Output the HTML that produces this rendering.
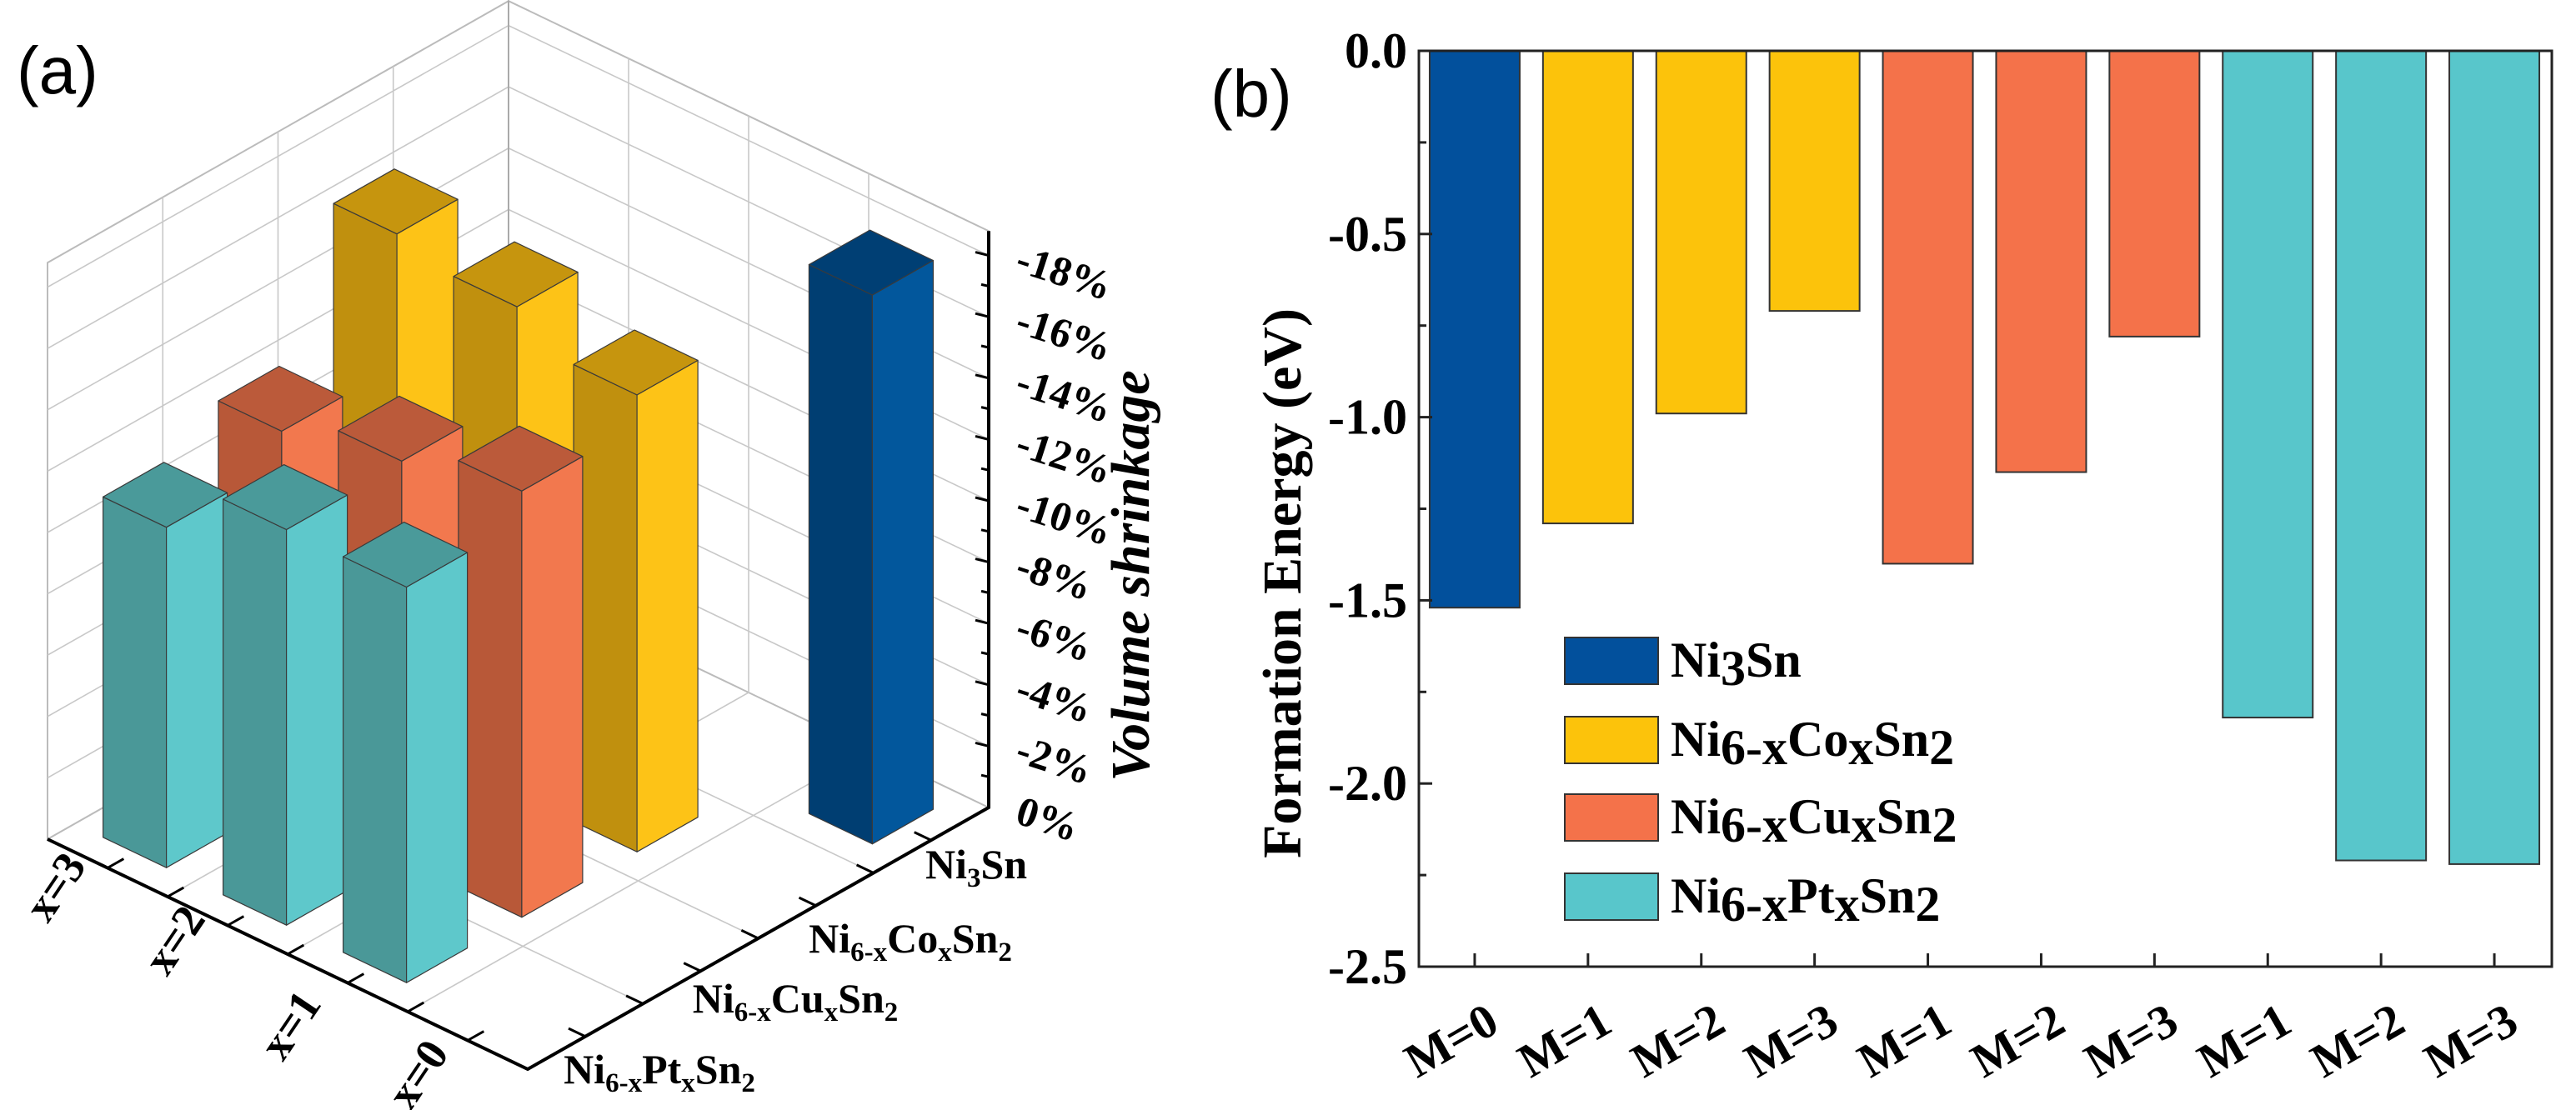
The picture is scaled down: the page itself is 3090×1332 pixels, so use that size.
<!DOCTYPE html>
<html><head><meta charset="utf-8"><style>
html,body{margin:0;padding:0;background:#fff;}
svg{display:block;}
text{font-family:"Liberation Serif",serif;}
</style></head><body>
<svg id="chart" width="3090" height="1332" viewBox="0 0 3090 1332" xmlns="http://www.w3.org/2000/svg">
<g id="pa"></g>
<g id="pb"></g>
</svg>
<script>
// ---------- Panel (a) data ----------
const rowLabels = ["x=3","x=2","x=1","x=0"];
const seriesNames = ["Ni6-xPtxSn2","Ni6-xCuxSn2","Ni6-xCoxSn2","Ni3Sn"];
const ptShrink = [11.1, 12.9, 12.9];
const cuShrink = [12.1, 13.0, 13.9];
const coShrink = [16.4, 15.9, 14.9];
const ni3snShrink = [17.9];
const zTicks = [0,2,4,6,8,10,12,14,16,18];

// ---------- Panel (b) data ----------
const bCats = ["M=0","M=1","M=2","M=3","M=1","M=2","M=3","M=1","M=2","M=3"];
const bValues = [-1.52,-1.29,-0.99,-0.71,-1.40,-1.15,-0.78,-1.82,-2.21,-2.22];
const bGroup = [0,1,1,1,2,2,2,3,3,3];
const bYTicks = [0,-0.5,-1.0,-1.5,-2.0,-2.5];

const NS="http://www.w3.org/2000/svg";
function mk(tag, attrs, parent){const e=document.createElementNS(NS,tag);for(const k in attrs)e.setAttribute(k,attrs[k]);parent.appendChild(e);return e;}

// ===== Panel A =====
const pa=document.getElementById('pa');
const L=[57,1007], FU=[576,276], RV=[553,-314], HS=36.8;
function P(u,v,h){return [L[0]+u*FU[0]+v*RV[0], L[1]+u*FU[1]+v*RV[1]-h*HS];}
function pts(a){return a.map(p=>p[0].toFixed(1)+","+p[1].toFixed(1)).join(" ");}
const WALLH=18.8;
let w1=mk('polygon',{points:pts([P(0,0,0),P(0,1,0),P(0,1,WALLH),P(0,0,WALLH)]),fill:"#fff",stroke:"#bbb","stroke-width":2},pa);

let w2=mk('polygon',{points:pts([P(0,1,0),P(1,1,0),P(1,1,WALLH),P(0,1,WALLH)]),fill:"#fff",stroke:"#bbb","stroke-width":2},pa);

const grid=mk('g',{stroke:"#c8c8c8","stroke-width":1.6,fill:"none"},pa);

for(let h=2;h<=18;h+=2){
  const a=P(0,0,h),b=P(0,1,h),c=P(1,1,h);
  mk('polyline',{points:pts([a,b,c])},grid);
}
for(let k=1;k<4;k++){
  const t=k/4;
  mk('line',{x1:P(0,t,0)[0],y1:P(0,t,0)[1],x2:P(0,t,WALLH)[0],y2:P(0,t,WALLH)[1]},grid);
  mk('line',{x1:P(t,1,0)[0],y1:P(t,1,0)[1],x2:P(t,1,WALLH)[0],y2:P(t,1,WALLH)[1]},grid);
  mk('line',{x1:P(t,0,0)[0],y1:P(t,0,0)[1],x2:P(t,1,0)[0],y2:P(t,1,0)[1]},grid);
  mk('line',{x1:P(0,t,0)[0],y1:P(0,t,0)[1],x2:P(1,t,0)[0],y2:P(1,t,0)[1]},grid);
}
mk('line',{x1:P(0,1,0)[0],y1:P(0,1,0)[1],x2:P(0,1,WALLH)[0],y2:P(0,1,WALLH)[1],stroke:"#aaa","stroke-width":2},pa);
const colors=[
 {top:"#4a9a9a",left:"#4a9898",right:"#5ec8cb"},
 {top:"#bb5a3a",left:"#b85838",right:"#f2784e"},
 {top:"#c6950e",left:"#c0900e",right:"#fdc317"},
 {top:"#003f74",left:"#003e72",right:"#02579c"}];
const bars=[];
[ptShrink,cuShrink,coShrink].forEach((arr,s)=>arr.forEach((val,i)=>bars.push({s,i,val})));
ni3snShrink.forEach((val)=>bars.push({s:3,i:3,val}));
bars.sort((a,b)=>((a.i-a.s)-(b.i-b.s)));
const D=0.066;
bars.forEach(b=>{
  const u=(b.i+0.5)/4, v=(b.s+0.5)/4, c=colors[b.s], h=b.val;
  const g=mk('g',{stroke:"#3a3a3a","stroke-width":1.2,"stroke-linejoin":"round"},pa);
  
  
  mk('polygon',{points:pts([P(u-D,v-D,0),P(u+D,v-D,0),P(u+D,v-D,h),P(u-D,v-D,h)]),fill:c.left},g);
  mk('polygon',{points:pts([P(u+D,v-D,0),P(u+D,v+D,0),P(u+D,v+D,h),P(u+D,v-D,h)]),fill:c.right},g);
  mk('polygon',{points:pts([P(u-D,v-D,h),P(u+D,v-D,h),P(u+D,v+D,h),P(u-D,v+D,h)]),fill:c.top},g);
});
const ax=mk('g',{stroke:"#000","stroke-width":4,fill:"none"},pa);

mk('polyline',{points:pts([P(0,0,0),P(1,0,0),P(1,1,0),P(1,1,WALLH)])},ax);
for(let k=1;k<8;k++){const t=k/8;
  const a=P(t,0,0),b=P(t,0.035,0); mk('line',{x1:a[0],y1:a[1],x2:b[0],y2:b[1],"stroke-width":3},ax);
  const c=P(1,t,0),d=P(0.965,t,0); mk('line',{x1:c[0],y1:c[1],x2:d[0],y2:d[1],"stroke-width":3},ax);}
for(let h=1;h<=18;h++){const a=P(1,1,h);mk('line',{x1:a[0],y1:a[1],x2:a[0]-(h%2?9:16),y2:a[1]+(h%2?-2:-4),"stroke-width":3},ax);}
zTicks.forEach(t=>{const a=P(1,1,t);
  const tx=mk('text',{x:0,y:0,"font-size":50,"font-weight":"bold",transform:`translate(${a[0]+30},${a[1]+18}) rotate(18)`},pa);
  tx.textContent=(t===0?"0%":"-"+t+"%");
  });
let zt=mk('text',{x:0,y:0,"font-size":66,"font-weight":"bold","font-style":"italic","text-anchor":"middle",transform:"translate(1378,691) rotate(-90)"},pa);
zt.textContent="Volume shrinkage";
const rowPos=[[69,1062],[212,1126],[351,1228],[504,1287]];
rowLabels.forEach((r,i)=>{const t=mk('text',{x:0,y:0,"font-size":54,"font-weight":"bold","text-anchor":"middle",transform:`translate(${rowPos[i][0]+12},${rowPos[i][1]+12}) rotate(-56)`},pa);
  t.textContent=r;});
const serPos=[[791,1300],[954,1215],[1092,1143],[1171,1054]];
const serParts=[[["Ni",0],["6-x",1],["Pt",0],["x",1],["Sn",0],["2",1]],[["Ni",0],["6-x",1],["Cu",0],["x",1],["Sn",0],["2",1]],[["Ni",0],["6-x",1],["Co",0],["x",1],["Sn",0],["2",1]],[["Ni",0],["3",1],["Sn",0]]];
serParts.forEach((parts,i)=>{const t=mk('text',{x:serPos[i][0],y:serPos[i][1],"font-size":50,"font-weight":"bold","text-anchor":"middle"},pa);
  parts.forEach(p=>{const s=mk('tspan',{},t);if(p[1]){s.setAttribute('font-size',33);s.setAttribute('dy',10);}else if(t.childNodes.length>1){s.setAttribute('dy',-10);}s.textContent=p[0];});
  });
let la=mk('text',{x:20,y:112,"font-size":80,style:"font-family:'Liberation Sans',sans-serif"},pa);
la.textContent="(a)";

// ===== Panel B =====
const pb=document.getElementById('pb');
const X0=1702,X1=3061,Y0=61,Y1=1160;
function ys(v){return Y0+(0-v)/2.5*(Y1-Y0);}
const step=(X1-X0)/10;
function xs(i){return X0+step*(i+0.5)-1;}
const bColors=["#02509c","#fcc30b","#f4724a","#58c6cb"];
const BW=108;
bValues.forEach((v,i)=>{const r=mk('rect',{x:xs(i)-BW/2,y:ys(0),width:BW,height:ys(v)-ys(0),fill:bColors[bGroup[i]],stroke:"#333","stroke-width":2},pb);
  });
let fr=mk('rect',{x:X0,y:Y0,width:X1-X0,height:Y1-Y0,fill:"none",stroke:"#222","stroke-width":3},pb);

for(let k=0;k<=10;k++){const v=-k*0.25,y=ys(v);mk('line',{x1:X0,y1:y,x2:X0+(k%2?9:16),y2:y,stroke:"#222","stroke-width":3},pb);}
bCats.forEach((c,i)=>{mk('line',{x1:xs(i),y1:Y1,x2:xs(i),y2:Y1-16,stroke:"#222","stroke-width":3},pb);
  const t=mk('text',{x:0,y:0,"font-size":58,"font-weight":"bold","text-anchor":"end",transform:`translate(${xs(i)+32},${Y1+76}) rotate(-30)`},pb);
  t.textContent=c;});
bYTicks.forEach(v=>{const t=mk('text',{x:X0-14,y:ys(v)+20,"font-size":60,"font-weight":"bold","text-anchor":"end"},pb);
  t.textContent=v.toFixed(1);});
let yt=mk('text',{x:0,y:0,"font-size":66,"font-weight":"bold","text-anchor":"middle",transform:"translate(1560,700) rotate(-90)"},pb);
yt.textContent="Formation Energy (eV)";
let lb=mk('text',{x:1452,y:140,"font-size":80,style:"font-family:'Liberation Sans',sans-serif"},pb);
lb.textContent="(b)";
const legY=[765,860,953,1048];
const legParts=[[["Ni",0],["3",1],["Sn",0]],[["Ni",0],["6-x",1],["Co",0],["x",1],["Sn",0],["2",1]],[["Ni",0],["6-x",1],["Cu",0],["x",1],["Sn",0],["2",1]],[["Ni",0],["6-x",1],["Pt",0],["x",1],["Sn",0],["2",1]]];
legParts.forEach((parts,i)=>{const g=mk('g',{},pb);
  
  mk('rect',{x:1877,y:legY[i],width:112,height:56,fill:bColors[i],stroke:"#333","stroke-width":2},g);
  const t=mk('text',{x:2004,y:legY[i]+47,"font-size":60,"font-weight":"bold"},g);
  parts.forEach(p=>{const s=mk('tspan',{},t);if(p[1]){s.setAttribute('dy',10);}else if(t.childNodes.length>1){s.setAttribute('dy',-10);}s.textContent=p[0];});
});
</script>
</body></html>
